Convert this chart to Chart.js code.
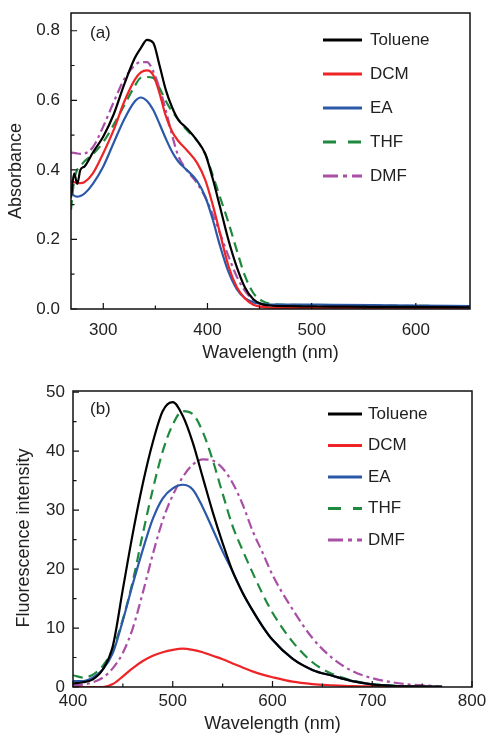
<!DOCTYPE html>
<html>
<head>
<meta charset="utf-8">
<script src="https://cdn.jsdelivr.net/npm/chart.js@4.4.1/dist/chart.umd.min.js"></script>
<style>
    html, body { margin: 0; padding: 0; background: #fff; }
    #wrap { position: relative; width: 488px; height: 735px; }
    canvas { position: absolute; left: 0; }
    #absChart { top: 0; }
    #fluChart { top: 370px; }
</style>
</head>
<body>
<div id="wrap">
    <canvas id="absChart" width="488" height="370"></canvas>
    <canvas id="fluChart" width="488" height="365"></canvas>
</div>
<script>
// solvents and line styles
var solvents = ["Toluene", "DCM", "EA", "THF", "DMF"];
var lineColors = ["#000000", "#ee2426", "#2b59a8", "#1f8a3d", "#a94fa6"];
var lineDashes = [[], [], [], [10, 6], [10, 4, 3, 4]];
var legendDashes = [[], [], [], [13, 12], [15, 5, 4, 5]];

// (a) absorbance
var absWavelength = [269, 272, 275, 278, 282, 290, 300, 310, 320, 330, 336, 342, 348, 354, 360, 366, 372, 380, 390, 398, 405, 412, 420, 428, 436, 444, 452, 460, 480, 520, 560, 600, 652];
var absToluene = [0.32, 0.39, 0.36, 0.40, 0.41, 0.45, 0.496, 0.56, 0.645, 0.72, 0.75, 0.774, 0.765, 0.70, 0.63, 0.58, 0.544, 0.52, 0.484, 0.445, 0.375, 0.294, 0.20, 0.122, 0.062, 0.028, 0.014, 0.010, 0.008, 0.007, 0.006, 0.006, 0.005];
var absDCM = [0.368, 0.365, 0.362, 0.362, 0.365, 0.39, 0.448, 0.515, 0.595, 0.658, 0.68, 0.686, 0.672, 0.62, 0.555, 0.51, 0.483, 0.457, 0.42, 0.37, 0.30, 0.218, 0.125, 0.064, 0.03, 0.012, 0.006, 0.004, 0.003, 0.003, 0.002, 0.002, 0.002];
var absEA = [0.333, 0.326, 0.323, 0.325, 0.332, 0.36, 0.41, 0.478, 0.545, 0.596, 0.608, 0.598, 0.572, 0.532, 0.49, 0.452, 0.424, 0.40, 0.368, 0.322, 0.258, 0.182, 0.108, 0.058, 0.031, 0.019, 0.015, 0.013, 0.013, 0.012, 0.011, 0.010, 0.008];
var absTHF = [0.285, 0.37, 0.40, 0.41, 0.425, 0.445, 0.48, 0.53, 0.585, 0.64, 0.665, 0.667, 0.664, 0.635, 0.598, 0.568, 0.545, 0.515, 0.484, 0.445, 0.385, 0.322, 0.25, 0.17, 0.095, 0.046, 0.024, 0.015, 0.012, 0.011, 0.010, 0.009, 0.008];
var absDMF = [0.45, 0.449, 0.447, 0.446, 0.447, 0.465, 0.525, 0.595, 0.66, 0.70, 0.71, 0.71, 0.683, 0.635, 0.572, 0.50, 0.44, 0.40, 0.362, 0.32, 0.272, 0.218, 0.153, 0.094, 0.052, 0.026, 0.014, 0.008, 0.006, 0.005, 0.004, 0.004, 0.004];
var absXTicks = [300, 400, 500, 600];
var absXMinor = [350, 450, 550, 650];
var absYTicks = [0, 0.2, 0.4, 0.6, 0.8];
var absYMinor = [0.1, 0.3, 0.5, 0.7];

// (b) fluorescence
var fluWavelength = [400, 410, 420, 430, 440, 450, 460, 470, 480, 490, 500, 510, 520, 530, 540, 550, 560, 570, 580, 590, 600, 620, 640, 660, 680, 700, 720, 740, 770];
var fluToluene = [0.6, 0.8, 1.3, 3.0, 7.0, 16.6, 26.1, 34.5, 41.5, 46.8, 48.3, 46.0, 41.5, 35.6, 29.7, 24.4, 19.6, 16.0, 13.0, 10.3, 8.0, 4.8, 2.9, 1.9, 1.0, 0.45, 0.2, 0.1, 0.03];
var fluDCM = [0, 0, 0, 0, 0.5, 1.8, 3.2, 4.4, 5.3, 5.9, 6.3, 6.5, 6.3, 5.9, 5.3, 4.7, 4.0, 3.3, 2.65, 2.1, 1.65, 0.9, 0.5, 0.3, 0.15, 0.1, 0.05, 0.03, 0];
var fluEA = [1.0, 1.0, 1.6, 3.0, 5.8, 11.3, 17.5, 23.3, 28.5, 32.0, 33.7, 34.3, 33.5, 30.5, 26.8, 23.0, 19.6, 16.0, 13.0, 10.3, 8.0, 4.8, 2.9, 1.9, 1.0, 0.45, 0.2, 0.1, 0.03];
var fluTHF = [2.0, 1.6, 2.1, 3.6, 6.5, 11.5, 18.0, 26.0, 33.5, 40.0, 44.5, 46.8, 46.3, 43.3, 38.5, 32.8, 27.3, 23.2, 19.4, 15.8, 12.6, 7.7, 4.2, 2.2, 1.1, 0.5, 0.25, 0.12, 0.05];
var fluDMF = [0.3, 0.4, 0.8, 1.6, 3.2, 5.8, 10.0, 16.0, 22.5, 28.3, 32.5, 35.6, 37.7, 38.6, 38.4, 37.1, 34.6, 31.0, 26.5, 22.8, 19.0, 13.2, 8.3, 4.9, 2.7, 1.5, 0.8, 0.4, 0.1];
var fluXTicks = [400, 500, 600, 700, 800];
var fluXMinor = [450, 550, 650, 750];
var fluYTicks = [0, 10, 20, 30, 40, 50];
var fluYMinor = [5, 15, 25, 35, 45];

var fontFamily = '"Liberation Sans", Arial, sans-serif';
var textColor = "#222";
Chart.defaults.font.family = fontFamily;
Chart.defaults.color = textColor;

function makeDatasets(xs, seriesList) {
    return seriesList.map(function (ys, i) {
        return {
            label: solvents[i],
            data: xs.map(function (x, j) { return { x: x, y: ys[j] }; }),
            borderColor: lineColors[i],
            borderWidth: 2.2,
            borderDash: lineDashes[i],
            pointRadius: 0,
            fill: false,
            cubicInterpolationMode: "monotone"
        };
    });
}

// frame, inward ticks, y title, panel label and legend inside the plot
var innerPlugin = {
    id: "inner",
    afterDraw: function (chart, args, opts) {
        var ctx = chart.ctx;
        var a = chart.chartArea;
        var xs = chart.scales.x;
        var ys = chart.scales.y;
        ctx.save();
        ctx.strokeStyle = "#111";
        ctx.lineWidth = 1.5;
        ctx.strokeRect(a.left, a.top, a.right - a.left, a.bottom - a.top);

        ctx.lineWidth = 1.2;
        ctx.beginPath();
        xs.ticks.forEach(function (t) {
            var px = xs.getPixelForValue(t.value);
            ctx.moveTo(px, a.bottom);
            ctx.lineTo(px, a.bottom - 6);
        });
        opts.minorX.forEach(function (v) {
            var px = xs.getPixelForValue(v);
            if (px < a.left || px > a.right) return;
            ctx.moveTo(px, a.bottom);
            ctx.lineTo(px, a.bottom - 3.5);
        });
        ys.ticks.forEach(function (t) {
            var py = ys.getPixelForValue(t.value);
            ctx.moveTo(a.left, py);
            ctx.lineTo(a.left + 6, py);
        });
        opts.minorY.forEach(function (v) {
            var py = ys.getPixelForValue(v);
            ctx.moveTo(a.left, py);
            ctx.lineTo(a.left + 3.5, py);
        });
        ctx.stroke();

        ctx.fillStyle = textColor;
        ctx.textAlign = "center";
        ctx.textBaseline = "middle";
        ctx.font = "18px " + fontFamily;
        ctx.save();
        ctx.translate(opts.yTitleX, (a.top + a.bottom) / 2 + opts.yTitleDy);
        ctx.rotate(-Math.PI / 2);
        ctx.fillText(opts.yTitle, 0, 0);
        ctx.restore();

        ctx.font = "17px " + fontFamily;
        ctx.textAlign = "left";
        ctx.fillText(opts.panel, a.left + opts.panelDx, a.top + opts.panelDy);

        chart.data.datasets.forEach(function (ds, i) {
            var y = a.top + opts.legendTop + i * opts.legendGap;
            ctx.strokeStyle = ds.borderColor;
            ctx.lineWidth = 3;
            ctx.setLineDash(legendDashes[i]);
            ctx.beginPath();
            ctx.moveTo(a.right - opts.lineStart, y);
            ctx.lineTo(a.right - opts.lineEnd, y);
            ctx.stroke();
            ctx.setLineDash([]);
            ctx.fillText(ds.label, a.right - opts.textStart, y);
        });
        ctx.restore();
    }
};

function makeChart(id, cfg) {
    return new Chart(document.getElementById(id), {
        type: "line",
        data: { datasets: makeDatasets(cfg.xs, cfg.series) },
        options: {
            responsive: false,
            animation: false,
            events: [],
            layout: { padding: cfg.padding },
            plugins: {
                legend: { display: false },
                tooltip: { enabled: false },
                inner: cfg.inner
            },
            scales: {
                x: {
                    type: "linear",
                    min: cfg.xMin,
                    max: cfg.xMax,
                    afterBuildTicks: function (s) { s.ticks = cfg.xTicks.map(function (v) { return { value: v }; }); },
                    afterFit: function (s) { s.height = cfg.xHeight; s.paddingLeft = 0; s.paddingRight = 0; },
                    grid: { display: false, drawTicks: false },
                    border: { display: false },
                    ticks: { padding: cfg.xPad, font: { size: 17 }, color: textColor },
                    title: { display: true, text: "Wavelength (nm)", font: { size: 18 }, color: textColor, padding: cfg.xTitlePad }
                },
                y: {
                    type: "linear",
                    min: 0,
                    max: cfg.yMax,
                    afterBuildTicks: function (s) { s.ticks = cfg.yTicks.map(function (v) { return { value: v }; }); },
                    afterFit: function (s) { s.width = cfg.yWidth; s.paddingTop = 0; s.paddingBottom = 0; },
                    grid: { display: false, drawTicks: false },
                    border: { display: false },
                    ticks: { padding: cfg.yPad, font: { size: 17 }, color: textColor, callback: cfg.yFmt },
                    title: { display: false }
                }
            }
        },
        plugins: [innerPlugin]
    });
}

makeChart("absChart", {
    xs: absWavelength,
    series: [absToluene, absDCM, absEA, absTHF, absDMF],
    padding: { left: 0, right: 18, top: 13, bottom: 0 },
    xMin: 269, xMax: 652, xTicks: absXTicks, xHeight: 61, xPad: 11,
    xTitlePad: { top: 0, bottom: 6 },
    yMax: 0.851, yTicks: absYTicks, yWidth: 71, yPad: 11,
    yFmt: function (v) { return v.toFixed(1); },
    inner: {
        minorX: absXMinor, minorY: absYMinor,
        yTitle: "Absorbance", yTitleX: 16.5, yTitleDy: 10,
        panel: "(a)", panelDx: 19, panelDy: 20,
        legendTop: 27, legendGap: 34,
        lineStart: 147, lineEnd: 108, textStart: 100
    }
});

makeChart("fluChart", {
    xs: fluWavelength,
    series: [fluToluene, fluDCM, fluEA, fluTHF, fluDMF],
    padding: { left: 0, right: 16, top: 21, bottom: 0 },
    xMin: 400, xMax: 800, xTicks: fluXTicks, xHeight: 48, xPad: 4,
    xTitlePad: { top: 0, bottom: 0 },
    yMax: 50.2, yTicks: fluYTicks, yWidth: 73, yPad: 8,
    yFmt: function (v) { return String(v); },
    inner: {
        minorX: fluXMinor, minorY: fluYMinor,
        yTitle: "Fluorescence intensity", yTitleX: 24.5, yTitleDy: -1,
        panel: "(b)", panelDx: 17, panelDy: 18,
        legendTop: 23, legendGap: 31.5,
        lineStart: 144, lineEnd: 110, textStart: 104
    }
});
</script>
</body>
</html>
